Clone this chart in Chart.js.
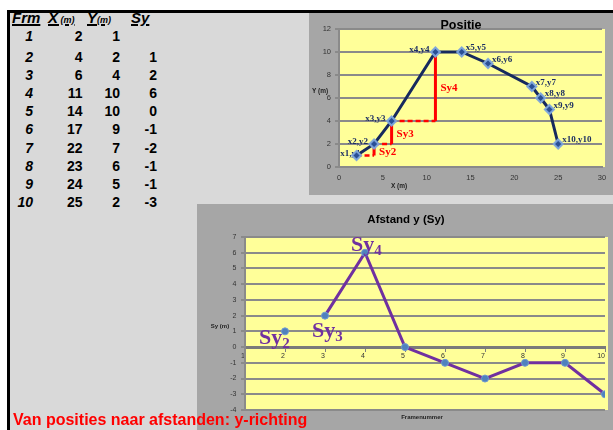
<!DOCTYPE html>
<html>
<head>
<meta charset="utf-8">
<script src="https://cdn.jsdelivr.net/npm/chart.js@4.4.1/dist/chart.umd.min.js"></script>
<style>
  html, body { margin: 0; padding: 0; background: #ffffff; width: 613px; height: 430px; overflow: hidden; }
  #sheet { position: absolute; left: 7px; top: 10px; width: 606px; height: 420px; background: #d9d9d9;
           border-left: 3px solid #000; border-top: 3px solid #000; box-sizing: border-box; }
  .panel { position: absolute; background: #a6a6a6; }
  #posPanel { left: 309px; top: 13px; width: 304px; height: 182px; }
  #syPanel { left: 197px; top: 204px; width: 416px; height: 226px; }
  canvas { display: block; }
  #table { position: absolute; left: 0; top: 0; font-family: "Liberation Sans", Arial, sans-serif;
           font-weight: bold; font-size: 14px; color: #000; }
  .cell { position: absolute; white-space: nowrap; line-height: 16px; text-align: right; width: 40px; }
  .it { font-style: italic; }
  .hd { position: absolute; white-space: nowrap; line-height: 16px; font-size: 15px; font-style: italic;
        text-decoration: underline; text-decoration-thickness: 2px; }
  .hd small { font-size: 9px; }
  #caption { position: absolute; left: 13px; top: 412px; color: #ff0000; white-space: nowrap;
             font: bold 16px/16px "Liberation Sans", Arial, sans-serif; z-index: 5; }
</style>
</head>
<body>
<div id="sheet"></div>
<div id="table"></div>
<div class="panel" id="posPanel"><canvas id="posChart" width="304" height="182"></canvas></div>
<div class="panel" id="syPanel"><canvas id="syChart" width="416" height="226"></canvas></div>
<div id="caption">Van posities naar afstanden: y-richting</div>

<script>
// Frame numbers and measured positions (metres)
const frames = [1, 2, 3, 4, 5, 6, 7, 8, 9, 10];
const xPos = [2, 4, 6, 11, 14, 17, 22, 23, 24, 25];
const yPos = [1, 2, 4, 10, 10, 9, 7, 6, 5, 2];
// Displacement in y between consecutive frames
const syStep = [null, 1, 2, 6, 0, -1, -2, -1, -1, -3];

// Axis tick values
const posXTicks = [0, 5, 10, 15, 20, 25, 30];
const posYTicks = [0, 2, 4, 6, 8, 10, 12];
const syXTicks = [1, 2, 3, 4, 5, 6, 7, 8, 9, 10];
const syYTicks = [-4, -3, -2, -1, 0, 1, 2, 3, 4, 5, 6, 7];

// Frames whose step Sy is drawn and labelled
const stepMarked = [2, 3, 4];

/* ---------- data table on the left ---------- */
const table = document.getElementById('table');
function addHeader(html, left, cy) {
  const d = document.createElement('div');
  d.className = 'hd';
  d.style.left = left + 'px';
  d.style.top = (cy - 8) + 'px';
  d.innerHTML = html;
  table.appendChild(d);
}
function addCell(text, rightEdge, cy, italic) {
  const d = document.createElement('div');
  d.className = 'cell' + (italic ? ' it' : '');
  d.style.left = (rightEdge - 40) + 'px';
  d.style.top = (cy - 8) + 'px';
  d.textContent = text;
  table.appendChild(d);
}
addHeader('Frm', 12, 18);
addHeader('X<small> (m)</small>', 48, 18);
addHeader('Y<small>(m)</small>', 87, 18);
addHeader('Sy', 131, 18);
frames.forEach((f, i) => {
  const cy = i === 0 ? 36 : 56.5 + 18.2 * (i - 1);
  addCell(String(f), 33, cy, true);
  addCell(String(xPos[i]), 82.5, cy, false);
  addCell(String(yPos[i]), 120, cy, false);
  addCell(syStep[i] === null ? '' : String(syStep[i]), 157, cy, false);
});

/* ---------- shared plugins ---------- */
Chart.defaults.font.family = '"Liberation Sans", Arial, sans-serif';

const plotFill = {
  id: 'plotFill',
  beforeDraw(chart, args, opts) {
    const { left, top, right, bottom } = chart.chartArea;
    const ctx = chart.ctx;
    ctx.save();
    ctx.fillStyle = opts.color;
    ctx.fillRect(left, top, right - left + (opts.extendRight || 0), bottom - top);
    ctx.restore();
  }
};

const sheetText = {
  id: 'sheetText',
  afterDraw(chart, args, opts) {
    const ctx = chart.ctx;
    (opts.items || []).forEach(it => {
      const p = typeof it.at === 'function' ? it.at(chart) : it.at;
      ctx.save();
      ctx.font = it.font;
      ctx.fillStyle = it.color || '#000';
      ctx.textAlign = it.align || 'center';
      ctx.textBaseline = 'middle';
      ctx.fillText(it.text, p[0], p[1]);
      ctx.restore();
    });
  }
};

/* ---------- Positie chart ---------- */
const posLabels = {
  id: 'posLabels',
  beforeDatasetsDraw(chart) {
    const ctx = chart.ctx, xs = chart.scales.x, ys = chart.scales.y;
    ctx.save();
    ctx.textBaseline = 'middle';
    ctx.font = 'bold 9px "Liberation Serif", "Times New Roman", serif';
    ctx.fillStyle = '#1c2f63';
    frames.forEach((f, i) => {
      const px = xs.getPixelForValue(xPos[i]);
      const py = ys.getPixelForValue(yPos[i]);
      const before = i < 4;
      ctx.textAlign = before ? 'right' : 'left';
      const dx = i === 0 ? 4 : (before ? -6 : 4);
      const dy = before ? -2 : -4;
      ctx.fillText('x' + f + ',y' + f, px + dx, py + dy);
    });
    ctx.font = 'bold 11px "Liberation Serif", "Times New Roman", serif';
    ctx.fillStyle = '#ff0000';
    ctx.textAlign = 'left';
    stepMarked.forEach(f => {
      const i = f - 1;
      const px = xs.getPixelForValue(xPos[i]);
      const py = (ys.getPixelForValue(yPos[i - 1]) + ys.getPixelForValue(yPos[i])) / 2;
      ctx.fillText('Sy' + f, px + 5, py + 2);
    });
    ctx.restore();
  }
};

const pathData = xPos.map((x, i) => ({ x: x, y: yPos[i] }));
const stepSets = [];
stepMarked.forEach(f => {
  const i = f - 1;
  stepSets.push({
    data: [{ x: xPos[i - 1], y: yPos[i - 1] }, { x: xPos[i], y: yPos[i - 1] }],
    showLine: true, borderColor: '#ff0000', borderWidth: 2.5, borderDash: [5, 3],
    pointRadius: 0, order: 2
  });
  stepSets.push({
    data: [{ x: xPos[i], y: yPos[i - 1] }, { x: xPos[i], y: yPos[i] }],
    showLine: true, borderColor: '#ff0000', borderWidth: 3,
    pointRadius: 0, order: 1
  });
});

new Chart(document.getElementById('posChart'), {
  type: 'scatter',
  data: {
    datasets: [{
      data: pathData,
      showLine: true,
      borderColor: '#16295e',
      borderWidth: 3,
      pointStyle: 'rectRot',
      pointRadius: 4.5,
      pointBackgroundColor: '#2a4f95',
      pointBorderColor: 'rgba(125,165,220,0.95)',
      pointBorderWidth: 2,
      order: 0
    }].concat(stepSets)
  },
  options: {
    responsive: false,
    animation: false,
    events: [],
    layout: { padding: { top: 16, right: 11, bottom: 0, left: 0 } },
    plugins: {
      legend: { display: false },
      tooltip: { enabled: false },
      plotFill: { color: '#ffff99', extendRight: 3 },
      sheetText: {
        items: [
          { text: 'Positie', at: c => [c.width / 2, 12.5], font: 'bold 12.5px "Liberation Sans", Arial, sans-serif', color: '#000' },
          { text: 'Y (m)', at: [11, 78], font: 'bold 6.5px "Liberation Sans", Arial, sans-serif', color: '#222' },
          { text: 'X (m)', at: [90, 173.5], font: 'bold 6.5px "Liberation Sans", Arial, sans-serif', color: '#222' }
        ]
      }
    },
    scales: {
      x: {
        type: 'linear', position: 'bottom', min: 0, max: 30,
        afterBuildTicks: s => { s.ticks = posXTicks.map(v => ({ value: v })); },
        afterFit: s => { s.height = 28; },
        grid: { display: false, drawTicks: false, tickLength: 0 },
        border: { display: true, color: '#8a8a8a', width: 2 },
        ticks: { color: '#333', font: { size: 7.5 }, padding: 6, maxRotation: 0, autoSkip: false }
      },
      y: {
        type: 'linear', min: 0, max: 12,
        afterBuildTicks: s => { s.ticks = posYTicks.map(v => ({ value: v })); },
        afterFit: s => { s.width = 30; },
        grid: { color: '#8a8a8a', lineWidth: 2, tickLength: 4 },
        border: { display: true, color: '#8a8a8a', width: 2 },
        ticks: { color: '#333', font: { size: 7.5 }, padding: 4, autoSkip: false }
      }
    }
  },
  plugins: [plotFill, posLabels, sheetText]
});

/* ---------- Afstand y (Sy) chart ---------- */
const syLabels = {
  id: 'syLabels',
  afterDatasetsDraw(chart, args, opts) {
    const ctx = chart.ctx, xs = chart.scales.x, ys = chart.scales.y;
    ctx.save();
    ctx.fillStyle = '#7030a0';
    ctx.textAlign = 'left';
    ctx.textBaseline = 'alphabetic';
    opts.marks.forEach(m => {
      const i = m.frame - 1;
      const px = xs.getPixelForValue(frames[i]);
      const py = ys.getPixelForValue(syStep[i]);
      const x0 = px + m.dx, base = py + m.dy;
      ctx.font = 'bold 22px "Liberation Serif", "Times New Roman", serif';
      ctx.fillText('Sy', x0, base);
      const w = ctx.measureText('Sy').width;
      ctx.font = 'bold 15px "Liberation Serif", "Times New Roman", serif';
      ctx.fillText(String(m.frame), x0 + w, base + 4);
    });
    ctx.restore();
  }
};

const syData = frames.map((f, i) => ({ x: f, y: syStep[i] }));

new Chart(document.getElementById('syChart'), {
  type: 'scatter',
  data: {
    datasets: [{
      data: syData,
      showLine: true,
      spanGaps: false,
      borderColor: '#7030a0',
      borderWidth: 3,
      segment: { borderColor: ctx => ctx.p0DataIndex === 1 ? 'rgba(0,0,0,0)' : undefined },
      pointStyle: 'circle',
      pointRadius: 3.5,
      pointBackgroundColor: '#4f81bd',
      pointBorderColor: '#6e9ad3',
      pointBorderWidth: 1
    }]
  },
  options: {
    responsive: false,
    animation: false,
    events: [],
    layout: { padding: { top: 33, right: 8, bottom: 20, left: 0 } },
    plugins: {
      legend: { display: false },
      tooltip: { enabled: false },
      plotFill: { color: '#ffff99', extendRight: 3 },
      syLabels: {
        marks: [
          { frame: 2, dx: -26, dy: 13 },
          { frame: 3, dx: -13, dy: 21 },
          { frame: 4, dx: -14, dy: -2 }
        ]
      },
      sheetText: {
        items: [
          { text: 'Afstand y (Sy)', at: c => [c.width / 2 + 1, 16], font: 'bold 11.5px "Liberation Sans", Arial, sans-serif', color: '#000' },
          { text: 'Sy (m)', at: [23, 122], font: 'bold 6px "Liberation Sans", Arial, sans-serif', color: '#222' },
          { text: 'Framenummer', at: c => [(c.chartArea.left + c.chartArea.right) / 2 - 3, c.chartArea.bottom + 7], font: 'bold 6px "Liberation Sans", Arial, sans-serif', color: '#222' }
        ]
      }
    },
    scales: {
      x: {
        type: 'linear', position: { y: 0 }, min: 1, max: 10,
        afterBuildTicks: s => { s.ticks = syXTicks.map(v => ({ value: v })); },
        grid: { display: true, drawOnChartArea: false, color: '#808080', lineWidth: 1, tickLength: 3 },
        border: { display: true, color: '#7a7a7a', width: 3 },
        ticks: { color: '#333', font: { size: 7 }, padding: 2, align: 'end', maxRotation: 0, autoSkip: false }
      },
      y: {
        type: 'linear', min: -4, max: 7,
        afterBuildTicks: s => { s.ticks = syYTicks.map(v => ({ value: v })); },
        afterFit: s => { s.width = 48; },
        grid: { color: '#8a8a8a', lineWidth: 2, tickLength: 4 },
        border: { display: true, color: '#8a8a8a', width: 2 },
        ticks: { color: '#333', font: { size: 7 }, padding: 4.5, autoSkip: false }
      }
    }
  },
  plugins: [plotFill, syLabels, sheetText]
});
</script>
</body>
</html>
